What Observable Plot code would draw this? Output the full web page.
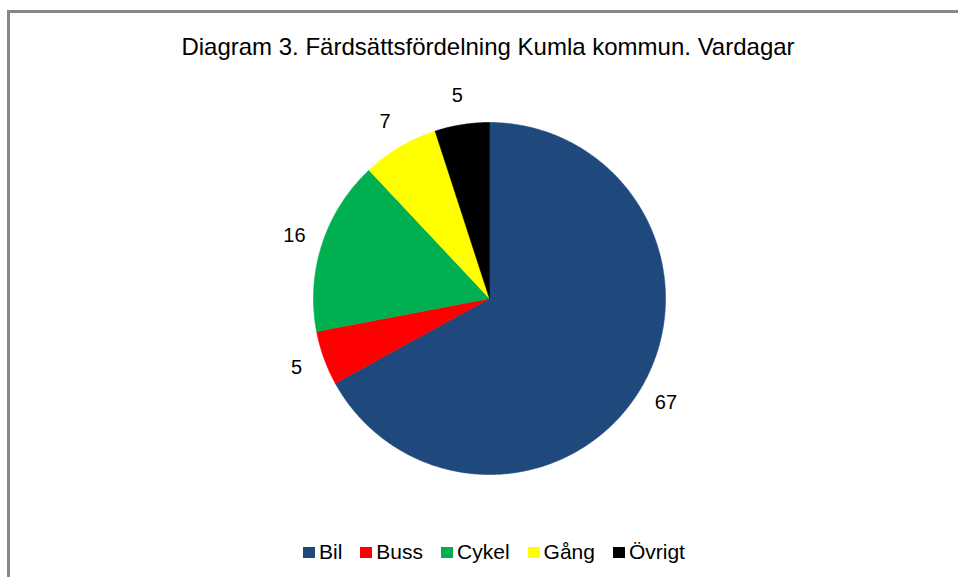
<!DOCTYPE html>
<html>
<head>
<meta charset="utf-8">
<script src="https://cdn.jsdelivr.net/npm/d3@7"></script>
<script src="https://cdn.jsdelivr.net/npm/@observablehq/plot@0.6"></script>
<style>
  html, body { margin: 0; padding: 0; background: #fff; }
  body { width: 958px; height: 577px; overflow: hidden; position: relative; font-family: "Liberation Sans", Arial, sans-serif; }
  #frame { position: absolute; left: 7px; top: 10px; width: 960px; height: 580px; border-top: 3px solid #878787; border-left: 3px solid #878787; box-sizing: border-box; }
  #title { position: absolute; left: 488px; top: 34.7px; transform: translateX(-50%); white-space: nowrap; font-size: 24px; line-height: 24px; color: #000; }
  #chart { position: absolute; left: 0; top: 70px; }
  #legend { position: absolute; left: 303px; top: 541px; display: flex; gap: 18px; font-size: 21px; line-height: 21px; color: #000; white-space: nowrap; }
  .item { display: flex; align-items: flex-start; gap: 4px; }
  .sw { width: 12px; height: 11px; margin-top: 6px; }
</style>
</head>
<body>
<div id="frame"></div>
<div id="title"></div>
<div id="chart"></div>
<div id="legend"></div>
<script>
const titleText = "Diagram 3. Färdsättsfördelning Kumla kommun. Vardagar";
const categories = ["Bil", "Buss", "Cykel", "Gång", "Övrigt"];
const values = [67, 5, 16, 7, 5];
const colors = ["#1F497D", "#FF0000", "#00B050", "#FFFF00", "#000000"];

document.getElementById("title").textContent = titleText;

const W = 958, H = 460;
const cx = 489, cy = 228, R = 176;

const arcs = d3.pie().sort(null).value(d => d)(values);

// slice outlines (geometry sampled along each arc)
const slicePts = [];
arcs.forEach((a, i) => {
  const name = categories[i];
  slicePts.push({name, x: 0, y: 0});
  const n = Math.max(2, Math.ceil((a.endAngle - a.startAngle) / (Math.PI / 360)));
  for (let k = 0; k <= n; k++) {
    const t = a.startAngle + (a.endAngle - a.startAngle) * k / n;
    slicePts.push({name, x: Math.sin(t), y: Math.cos(t)});
  }
  slicePts.push({name, x: 0, y: 0});
});

const labelR = 1.165;
const labels = arcs.map((a, i) => {
  const m = (a.startAngle + a.endAngle) / 2;
  return {name: categories[i], value: values[i], x: labelR * Math.sin(m), y: labelR * Math.cos(m)};
});

const plot = Plot.plot({
  width: W,
  height: H,
  margin: 0,
  x: {domain: [-cx / R, (W - cx) / R], axis: null},
  y: {domain: [-(H - cy) / R, cy / R], axis: null},
  color: {domain: categories, range: colors},
  style: {background: "transparent", fontFamily: "'Liberation Sans', Arial, sans-serif"},
  marks: [
    Plot.line(slicePts, {x: "x", y: "y", z: "name", fill: "name", stroke: "name", strokeWidth: 0.6, curve: "linear"}),
    Plot.text(labels, {x: "x", y: "y", text: d => String(d.value), fontSize: 20, fill: "#000", textAnchor: "middle", lineAnchor: "middle"})
  ]
});
document.getElementById("chart").appendChild(plot);

const legend = document.getElementById("legend");
categories.forEach((c, i) => {
  const item = document.createElement("div");
  item.className = "item";
  const sw = document.createElement("div");
  sw.className = "sw";
  sw.style.background = colors[i];
  const lab = document.createElement("span");
  lab.textContent = c;
  item.appendChild(sw);
  item.appendChild(lab);
  legend.appendChild(item);
});
</script>
</body>
</html>
